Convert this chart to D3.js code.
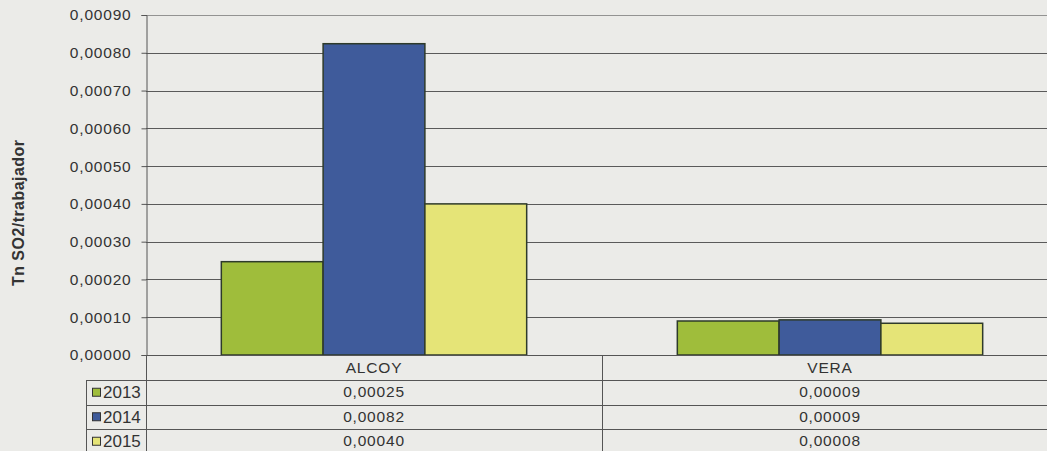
<!DOCTYPE html>
<html>
<head>
<meta charset="utf-8">
<script src="https://cdn.jsdelivr.net/npm/d3@7"></script>
<style>
  body { margin: 0; background: #ebebe8; }
  svg { display: block; font-family: "Liberation Sans", Arial, sans-serif; }
</style>
</head>
<body>
<svg id="chart" width="1047" height="451"></svg>
<script>
const categories = ['ALCOY', 'VERA'];
const years = ['2013', '2014', '2015'];
const values2013 = [0.000247, 0.000090];
const values2014 = [0.000824, 0.000093];
const values2015 = [0.000400, 0.000084];
const yTicks = [0, 0.0001, 0.0002, 0.0003, 0.0004, 0.0005, 0.0006, 0.0007, 0.0008, 0.0009];
const colors = ['#9fbd3b', '#3f5b9b', '#e5e477'];

const series = [values2013, values2014, values2015];
const fmt = v => d3.format('.5f')(v).replace('.', ',');

const svg = d3.select('#chart');
const plotLeft = 146, plotRight = 1058, plotTop = 15, base = 355;
const rowTops = [355, 380, 404.5, 429, 453.5];

const y = d3.scaleLinear().domain([0, 0.0009]).range([base, plotTop]);
const x0 = d3.scaleBand().domain(categories).range([plotLeft, plotRight]);
const x1 = d3.scaleBand().domain(years).range([0, x0.bandwidth()]).paddingOuter(0.74);

// gridlines
svg.append('g')
    .selectAll('line')
    .data(yTicks)
    .join('line')
    .attr('x1', plotLeft).attr('x2', plotRight)
    .attr('y1', d => Math.round(y(d)) + 0.5).attr('y2', d => Math.round(y(d)) + 0.5)
    .attr('stroke', '#5a5a5a')
    .attr('stroke-width', 1)
    .attr('opacity', d => d === 0.0009 ? 0.6 : 1);

// y axis
const yAxis = svg.append('g')
    .attr('transform', `translate(${plotLeft + 0.5},0)`)
    .call(d3.axisLeft(y).tickValues(yTicks).tickSize(5).tickFormat(fmt));
yAxis.select('.domain').attr('stroke', '#555');
yAxis.selectAll('.tick line').attr('stroke', '#555');
yAxis.selectAll('.tick text')
    .attr('x', -15)
    .attr('fill', '#333')
    .style('font-size', '15.5px')
    .style('letter-spacing', '0.8px');

// axis title
svg.append('text')
    .attr('transform', 'translate(24,213) rotate(-90)')
    .attr('text-anchor', 'middle')
    .attr('fill', '#333')
    .attr('textLength', 146)
    .attr('lengthAdjust', 'spacing')
    .style('font-size', '16px')
    .style('font-weight', 'bold')
    .text('Tn SO2/trabajador');

// bars
const groups = svg.append('g')
    .selectAll('g')
    .data(categories)
    .join('g')
    .attr('transform', d => `translate(${x0(d)},0)`);

groups.selectAll('rect')
    .data((d, ci) => years.map((yr, si) => ({ yr, si, v: series[si][ci] })))
    .join('rect')
    .attr('x', d => x1(d.yr))
    .attr('y', d => y(d.v))
    .attr('width', x1.bandwidth())
    .attr('height', d => base - y(d.v))
    .attr('fill', d => colors[d.si])
    .attr('stroke', '#2e3a2a')
    .attr('stroke-width', 1.5);

// data table
const table = svg.append('g');
const tableLeft = 86;
rowTops.forEach((t, r) => {
    const yy = Math.round(t) + 0.5;
    table.append('line')
        .attr('x1', r === 0 ? plotLeft : tableLeft).attr('x2', plotRight)
        .attr('y1', yy).attr('y2', yy)
        .attr('stroke', '#555');
});
table.append('line')
    .attr('x1', tableLeft + 0.5).attr('x2', tableLeft + 0.5)
    .attr('y1', rowTops[1]).attr('y2', 451)
    .attr('stroke', '#555');
[plotLeft, x0('VERA')].forEach(xx => {
    table.append('line')
        .attr('x1', Math.round(xx) + 0.5).attr('x2', Math.round(xx) + 0.5)
        .attr('y1', base).attr('y2', 451)
        .attr('stroke', '#555');
});

// header row
table.selectAll('text.cat')
    .data(categories)
    .join('text')
    .attr('class', 'cat')
    .attr('x', d => x0(d) + x0.bandwidth() / 2)
    .attr('y', 373)
    .attr('text-anchor', 'middle')
    .attr('fill', '#333')
    .style('font-size', '15.5px')
    .style('letter-spacing', '0.8px')
    .text(d => d);

// value rows
years.forEach((yr, si) => {
    const cy = (rowTops[si + 1] + rowTops[si + 2]) / 2;
    table.append('rect')
        .attr('x', 92.5).attr('y', cy - 4)
        .attr('width', 8).attr('height', 8)
        .attr('fill', colors[si])
        .attr('stroke', '#333');
    table.append('text')
        .attr('x', 103).attr('y', cy + 6)
        .attr('fill', '#333')
        .style('font-size', '17px')
        .text(yr);
    table.selectAll(null)
        .data(categories)
        .join('text')
        .attr('x', d => x0(d) + x0.bandwidth() / 2)
        .attr('y', cy + 5)
        .attr('text-anchor', 'middle')
        .attr('fill', '#333')
        .style('font-size', '15.5px')
        .style('letter-spacing', '0.8px')
        .text((d, ci) => fmt(series[si][ci]));
});
</script>
</body>
</html>
